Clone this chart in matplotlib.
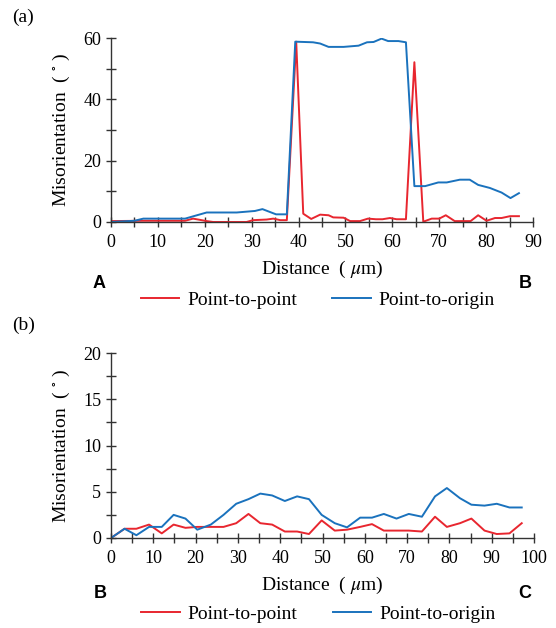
import numpy as np
import matplotlib
matplotlib.use('Agg')
import matplotlib.pyplot as plt
from matplotlib.ticker import MultipleLocator

plt.rcParams['font.family'] = ['Liberation Serif', 'DejaVu Serif']
plt.rcParams['mathtext.fontset'] = 'stix'

# panel (a): line scan A -> B
dist_a_ptp = [0, 6.9, 15.8, 17.5, 20.4, 21.8, 28.9, 30.3, 33.2, 34.6,
              36.1, 37.5, 39.5, 41.0, 42.7, 44.6, 46.4, 47.4, 49.6, 51.0,
              53.1, 54.8, 56.5, 57.9, 59.5, 60.9, 62.9, 64.7, 66.6, 68.4,
              70.0, 71.4, 73.3, 75.1, 76.7, 78.3, 80.1, 81.9, 83.3, 85.1, 87.0]
mis_a_ptp = [0.3, 0.4, 0.4, 1.1, 0.3, 0, 0, 0.6, 0.8, 1.1,
             0.6, 0.6, 58.8, 2.7, 1.0, 2.4, 2.2, 1.5, 1.4, 0.3,
             0.3, 1.1, 0.9, 0.9, 1.3, 0.9, 0.9, 52.1, 0.1, 1.1,
             1.1, 2.2, 0.3, 0.3, 0.3, 2.2, 0.4, 1.3, 1.3, 1.9, 1.9]
dist_a_pto = [0, 5, 6.9, 15.8, 20.4, 26.8, 30.7, 32.3, 35.2, 37.5,
              39.3, 43.1, 44.6, 46.4, 49.6, 52.8, 54.6, 56.0, 57.7, 59.1,
              61.3, 62.9, 64.7, 67.0, 69.8, 71.6, 74.4, 76.5, 78.3, 80.8,
              83.3, 85.2, 87.0]
mis_a_pto = [0, 0.4, 1.1, 1.1, 3.1, 3.1, 3.6, 4.2, 2.5, 2.5,
             58.8, 58.6, 58.2, 57.1, 57.1, 57.5, 58.6, 58.7, 59.8, 59.0,
             59.0, 58.6, 11.7, 11.7, 12.9, 12.9, 13.8, 13.8, 12.1, 11.1,
             9.6, 7.8, 9.4]

# panel (b): line scan B -> C
dist_b = [0, 3.2, 6.0, 9.0, 12.0, 14.8, 17.6, 20.4, 23.6, 26.6,
          29.6, 32.5, 35.3, 38.1, 41.1, 44.0, 46.8, 49.8, 52.9, 55.8,
          58.9, 61.7, 64.5, 67.5, 70.4, 73.5, 76.6, 79.4, 82.5, 85.2,
          88.3, 91.2, 94.2, 97.1]
mis_b_ptp = [0, 1.0, 1.0, 1.45, 0.5, 1.45, 1.1, 1.2, 1.2, 1.2,
             1.6, 2.6, 1.6, 1.45, 0.7, 0.7, 0.43, 1.9, 0.8, 0.9,
             1.2, 1.5, 0.8, 0.8, 0.8, 0.7, 2.3, 1.2, 1.6, 2.1,
             0.8, 0.43, 0.5, 1.6]
mis_b_pto = [0, 1.0, 0.3, 1.2, 1.2, 2.5, 2.1, 0.9, 1.45, 2.5,
             3.7, 4.2, 4.8, 4.6, 4.0, 4.5, 4.2, 2.5, 1.6, 1.15,
             2.2, 2.2, 2.6, 2.1, 2.6, 2.3, 4.5, 5.4, 4.3, 3.6,
             3.5, 3.7, 3.3, 3.3]

RED = '#e8262f'
BLUE = '#1a72bd'
W, H = 556, 628

fig = plt.figure(figsize=(W / 100, H / 100), dpi=100)


def px(x0, y0, x1, y1):
    return [x0 / W, 1 - y1 / H, (x1 - x0) / W, (y1 - y0) / H]


def style(ax, xmax, xmin_step, ymax, ymaj, ymin):
    for s in ['top', 'right']:
        ax.spines[s].set_visible(False)
    for s in ['left', 'bottom']:
        ax.spines[s].set_color('#333333')
        ax.spines[s].set_linewidth(1.0)
    ax.set_xlim(0, xmax)
    ax.set_ylim(0, ymax)
    ax.xaxis.set_major_locator(MultipleLocator(10))
    ax.xaxis.set_minor_locator(MultipleLocator(xmin_step))
    ax.yaxis.set_major_locator(MultipleLocator(ymaj))
    ax.yaxis.set_minor_locator(MultipleLocator(ymin))
    ax.tick_params(which='both', direction='inout', color='#333333',
                   labelsize=13, width=1.0, length=7)
    ax.tick_params(axis='x', pad=5)
    ax.set_ylabel('Misorientation  ( $^{\\circ}$ )', fontsize=14, labelpad=8)
    ax.set_xlabel('Distance  ( $\\mu$m)', fontsize=14, labelpad=6)


def legend(ax, off):
    ax.legend(loc='upper center', bbox_to_anchor=(0.49, off), ncol=2,
              frameon=False, fontsize=14, handlelength=2.0, columnspacing=1.8,
              handletextpad=0.4, borderaxespad=0)


ax1 = fig.add_axes(px(111, 38, 533, 222))
ax1.plot(dist_a_ptp, mis_a_ptp, color=RED, lw=1.4, label='Point-to-point')
ax1.plot(dist_a_pto, mis_a_pto, color=BLUE, lw=1.4, label='Point-to-origin')
style(ax1, 90, 5, 60, 20, 10)
legend(ax1, -0.335)

ax2 = fig.add_axes(px(111, 353, 534, 538))
ax2.plot(dist_b, mis_b_ptp, color=RED, lw=1.4, label='Point-to-point')
ax2.plot(dist_b, mis_b_pto, color=BLUE, lw=1.4, label='Point-to-origin')
style(ax2, 100, 5, 20, 5, 2.5)
legend(ax2, -0.32)

fig.text(12 / W, 1 - 17 / H, '(a)', fontsize=14, va='center', ha='left')
fig.text(12 / W, 1 - 325 / H, '(b)', fontsize=14, va='center', ha='left')
for txt, x, y in [('A', 99, 283), ('B', 525, 283), ('B', 100, 594), ('C', 525, 594)]:
    fig.text(x / W, 1 - y / H, txt, fontsize=13, fontweight='bold',
             family='Liberation Sans', ha='center', va='center')

fig.savefig('out.png', dpi=100)
